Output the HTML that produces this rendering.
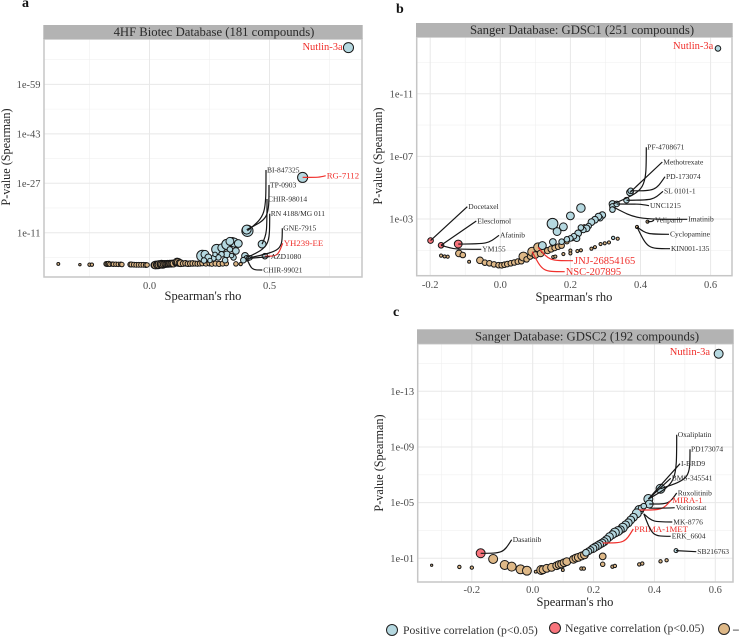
<!DOCTYPE html>
<html lang="en">
<head>
<meta charset="utf-8">
<title>Spearman correlation panels</title>
<style>
html,body{margin:0;padding:0;background:#fff;width:739px;height:637px;overflow:hidden}
svg{display:block;font-family:"Liberation Serif","Times New Roman",serif;filter:blur(.3px)}
</style>
</head>
<body>
<svg id="figure" width="739" height="637" viewBox="0 0 739 637" xmlns="http://www.w3.org/2000/svg">
  <rect width="739" height="637" fill="#fff"/>
  <text x="22" y="7" font-size="14" font-weight="bold" fill="#111">a</text>
  <text x="396" y="13" font-size="14" font-weight="bold" fill="#111">b</text>
  <text x="393" y="316" font-size="14" font-weight="bold" fill="#111">c</text>
  <g>
    <g>
      <circle cx="392" cy="630" r="5.5" fill="#b5d8e0" stroke="#222" stroke-width="1"/>
      <text x="403" y="634" font-size="11.7" fill="#333">Positive correlation (p&lt;0.05)</text>
    </g>
    <g>
      <circle cx="555" cy="628" r="5.5" fill="#f8747c" stroke="#222" stroke-width="1"/>
      <text x="565" y="632" font-size="11.7" fill="#333">Negative correlation (p&lt;0.05)</text>
    </g>
    <g>
      <circle cx="724" cy="629" r="5.5" fill="#deb887" stroke="#222" stroke-width="1"/>
      <text x="733" y="633" font-size="11.6" font-weight="bold" fill="#333">–</text>
    </g>
  </g>
</svg>
<script>
/* ---------- Panel a: 4HF Biotec ---------- */
const aXTicks = [0, 0.5];
const aXTickLabels = ['0.0', '0.5'];
const aXMinor = [-0.25, 0.25, 0.75];
const aYTicks = [59, 43, 27, 11];
const aYTickLabels = ['1e-59', '1e-43', '1e-27', '1e-11'];
const aYMinor = [67, 51, 35, 19, 3];
const aPosRho = [.829,.638,.408,.405,.469,.481,.398,.405,.391,.412,.419,.22,.231,.28,.301,.322,.345,.353,.335,.37,.36,.335,.322,.3,.287,.266,.245,.227,.35,.315,.342,.273,.252];
const aPosExp = [70.9,28.9,11.6,12,7.3,3.4,3.5,2.7,2.1,2.7,2.9,3.5,4,5.6,6.1,7.2,8,7.8,8.2,7.5,5.1,5.6,4,4,3,2.7,3,2,3,2.1,3.6,4,2];
const aPosN = [4.5,4.5,5,4,3.5,2.5,3,2.5,2.5,2,2,5,3.5,4.5,3.5,4.5,4,4,3.5,3.5,3,2.5,3,2.5,2.5,2.5,3,2.5,2.5,2.5,2,2,2];
const aNeuRho = [-.38,-.29,-.25,-.24,-.18,-.175,-.17,-.165,-.155,-.15,
  -.14,-.13,-.12,-.115,-.08,-.075,-.065,-.055,-.045,-.035,
  -.025,-.015,-.01,.02,.025,.03,.035,.04,.045,.05,
  .055,.06,.065,.07,.075,.08,.085,.09,.095,.1,
  .11,.115,.12,.125,.13,.14,.15,.16,.17,.18,
  .19,.2,.21,.22,.235,.25,.26,.275,.29,.305,
  .32,.36,.38];
const aNeuExp = [.9,.65,.65,.65,.9,.85,.95,.8,.85,.8,
  .8,.75,.8,.7,.7,.7,.65,.6,.6,.6,
  .6,.55,.55,.5,.55,.65,.6,.7,.75,.8,
  .75,.8,.9,.85,.95,.9,1,.95,1.05,1,
  1.3,1.5,1.4,1.2,1.1,1,1.1,.95,1,1.05,
  1,.95,1,1.1,1,1.05,.95,1,.9,1,
  1,.9,.85];
const aNeuN = [1.3,1.1,1.5,1.5,2.2,2.2,2.2,2,2,2,
  2,2,2,2,2.2,2.2,2.2,2.2,2.2,2.2,
  2.2,2.2,2,3,3.5,3,3.5,3.5,3,3.5,
  3.5,3.2,3,3,3,3,3,3,3,3,
  3,3.5,3.5,3,3,2.5,2.5,2.5,2.5,2.5,
  2.3,2.3,2.3,2.3,2.3,2.3,2.3,2.3,2.3,2.3,
  2,2,1.5];
const aNegRho = [];
const aNegExp = [];
const aNegN = [];
const aLabelNames = ['BI-847325','TP-0903','CHIR-98014','RN 4188/MG 011','GNE-7915','YH239-EE','AZD1080','CHIR-99021','RG-7112'];
const aLabelRho = [.408,.405,.469,.408,.419,.481,.412,.405,.638];
const aLabelExp = [11.6,12,7.3,3,2.9,3.4,2.7,2.7,28.9];
const aLabelLayout = [[267,170,'v'],[270,185,'v'],[268,199,'v'],[270.7,213.7,'v'],[283.3,228.3,'v'],[283.7,243.3,'h'],[270.7,256.7,'s'],[263.3,270,'d'],[326.7,175.7,'h']];

/* ---------- Panel b: GDSC1 ---------- */
const bXTicks = [-0.2, 0, 0.2, 0.4, 0.6];
const bXTickLabels = ['-0.2', '0.0', '0.2', '0.4', '0.6'];
const bXMinor = [-0.1, 0.1, 0.3, 0.5];
const bYTicks = [11, 7, 3];
const bYTickLabels = ['1e-11', '1e-07', '1e-03'];
const bYMinor = [13, 9, 5, 1];
const bPosRho = [.621,.37,.372,.36,.32,.32,.32,.332,.23,.2,.149,.162,.18,.15,.12,.291,.285,.28,.27,.26,.252,.246,.237,.23,.222,.218,.21,.2,.19,.175,.322];
const bPosExp = [13.9,4.7,4.8,4.2,3.96,3.8,3.6,3.96,3.7,3.2,2.7,2.2,2.5,1.53,1.3,3.25,3.05,3.15,2.95,2.8,2.55,2.4,2.3,2.45,2.08,1.76,1.9,1.76,1.7,1.55,1.79];
const bPosN = [2.5,3,2.5,2.5,3,2.5,2.5,2.5,3.8,3.5,4.8,3.5,3.5,3,3.5,3,2.5,3,3,3,2.5,3,2.5,2.5,3,2.8,2.5,2.5,2.5,2.5,1.5];
const bNeuRho = [-.169,-.159,-.15,-.118,-.107,-.089,-.058,-.044,-.031,-.018,
  -.005,.004,.012,.02,.03,.04,.05,.06,.066,.075,
  .085,.091,.1,.108,.115,.125,.135,.145,.155,.165,
  .175,.151,.157,.18,.2,.2,.22,.23,.26,.27,
  .286,.298,.31,.335,.42,.39,.19,.205,.215,.225,.235,.24];
const bNeuExp = [.66,.61,.59,.8,.7,.27,.36,.21,.17,.1,
  .05,.04,.08,.12,.17,.22,.28,.3,.6,.42,
  .6,.91,.7,1.19,.8,1.02,.98,1.08,1.15,1.23,
  1.3,.57,.6,.76,.98,.8,.95,1,1.1,1.2,
  1.4,1.45,1.5,1.74,2.83,2.49,1.55,1.75,1.95,2.1,2.3,2.5];
const bNeuN = [1.4,1.4,1.4,3,2.5,1.3,3,2.5,2.5,2.5,
  2.5,2.5,2.5,2.5,2.5,2.5,2.5,2.5,4,2.5,
  2.5,4,3,4,3,3,2.8,2.8,2.5,2.5,
  2.5,1.4,1.4,1.4,1.4,1.4,1.4,1.4,1.4,1.4,
  1.4,1.4,1.4,1.4,1.4,1.4,2,2,2,2,2,2];
const bNegRho = [-.199,-.169,-.12];
const bNegExp = [1.62,1.32,1.4];
const bNegN = [2.5,2.5,3.5];
const bLabelNames = ['Docetaxel','Elesclomol','Afatinib','YM155','JNJ-26854165','NSC-207895','PF-4708671','Methotrexate','PD-173074','SL 0101-1','UNC1215','Veliparib','Imatinib','Cyclopamine','KIN001-135'];
const bLabelRho = [-.199,-.169,-.12,-.169,.108,.091,.322,.37,.372,.36,.332,.42,.32,.39,.39];
const bLabelExp = [1.62,1.32,1.4,1.32,1.19,.91,3.96,4.7,4.8,4.2,3.96,2.83,3.8,2.49,2.49];
const bLabelLayout = [[468.3,206.7,'s'],[477.3,221,'s'],[500,235.3,'h'],[482.3,249.3,'d'],[574,260.7,'d'],[565.7,271.7,'d'],[647.3,147.3,'v'],[663.3,162,'s'],[666,176.7,'h'],[664,191.3,'h'],[650,205.7,'h'],[655,220,'h'],[688.3,219.3,'d'],[670,234.3,'d'],[671,248.7,'d']];

/* ---------- Panel c: GDSC2 ---------- */
const cXTicks = [-0.2, 0, 0.2, 0.4, 0.6];
const cXTickLabels = ['-0.2', '0.0', '0.2', '0.4', '0.6'];
const cXMinor = [-0.3, -0.1, 0.1, 0.3, 0.5];
const cYTicks = [13, 9, 5, 1];
const cYTickLabels = ['1e-13', '1e-09', '1e-05', '1e-01'];
const cYMinor = [15, 11, 7, 3];
const cPosRho = [.611,.42,.38,.383,.35,.358,.342,.331,.322,.314,.305,.296,.288,.28,.27,.262,.252,.243,.235,.228,.22,.213,.205,.198,.19,.183,.175,.365,.471];
const cPosExp = [15.7,6,5.26,4.9,4.47,4.6,4.23,3.95,3.75,3.55,3.4,3.2,3.05,2.95,2.85,2.7,2.55,2.35,2.2,2.1,2,1.9,1.8,1.7,1.6,1.5,1.4,4.75,1.55];
const cPosN = [4,4,4,3.5,4,3,4,3.5,3.5,3.5,3.5,4,3.5,4,4,3.5,3.5,3.5,3.5,3.5,3.5,3.5,3.5,3.5,3,3,3,2.5,1.8];
const cNeuRho = [-.332,-.241,-.2,-.13,-.092,-.069,-.04,-.019,.01,.028,
  .034,.046,.062,.079,.087,.095,.103,.112,.099,.134,
  .142,.15,.161,.17,.16,.168,.23,.23,.262,.27,
  .35,.36,.42,.44];
const cNeuExp = [.5,.38,.33,.95,.52,.4,.21,.11,.04,.16,
  .18,.28,.35,.47,.55,.59,.68,.76,.16,.93,
  1.02,1.07,1.17,1.25,.26,.26,1.14,.57,.4,.45,
  .56,.62,.78,.86];
const cNeuN = [1,1.5,1.5,4,4,4,4,4,1.3,4,
  3.5,3.5,3.5,3.5,3.5,3.5,3.5,3.5,1.3,3.5,
  3.5,3.5,3.5,3.5,1.5,1.5,3,2,1.5,1.5,
  1.5,1.5,1.5,1.5];
const cNegRho = [-.171];
const cNegExp = [1.36];
const cNegN = [4];
const cLabelNames = ['Oxaliplatin','PD173074','I-BRD9','BMS-345541','Ruxolitinib','MIRA-1','Vorinostat','MK-8776','PRIMA-1MET','ERK_6604','SB216763','Dasatinib'];
const cLabelRho = [.38,.42,.38,.38,.383,.35,.383,.365,.23,.365,.471,-.171];
const cLabelExp = [5.26,6,5.26,5.26,4.9,4.47,4.6,4.2,2.1,4.2,1.55,1.36];
const cLabelLayout = [[677.7,434.7,'v'],[691,449.3,'v'],[681,463.7,'s'],[671.7,478.3,'s'],[677.7,493,'h'],[672.3,500,'h'],[675.7,507.7,'h'],[673.3,522,'d'],[634.3,529,'h'],[671.7,536.3,'d'],[697.3,551.7,'s'],[512.7,539.7,'h']];

const redLabels = ['RG-7112','YH239-EE','JNJ-26854165','NSC-207895','MIRA-1','PRIMA-1MET'];
const largeRedLabels = ['JNJ-26854165','NSC-207895'];
const SVGNS = 'http://www.w3.org/2000/svg';
const figure = document.getElementById('figure');

function make(parent, tag, attrs, text) {
  const el = document.createElementNS(SVGNS, tag);
  for (const k in attrs) el.setAttribute(k, attrs[k]);
  if (text !== undefined) el.textContent = text;
  parent.appendChild(el);
  return el;
}
function linear(d0, d1, r0, r1) {
  return v => r0 + (v - d0) / (d1 - d0) * (r1 - r0);
}
function sizeScale(n) { return n * 1.12; }
function slug(s) { return s.toLowerCase().replace(/[^a-z0-9]+/g, '-'); }

function drawPanel(p) {
  const x = linear(p.xDom[0], p.xDom[1], p.xPx[0], p.xPx[1]);
  const y = linear(p.yDom[0], p.yDom[1], p.yPx[0], p.yPx[1]);
  const g = make(figure, 'g', {});
  
  

  const inX = v => x(v) > p.left && x(v) < p.right;
  const inY = v => y(v) > p.stripBottom && y(v) < p.bottom;

  p.xMinor.filter(inX).forEach(v => {
    const l = make(g, 'line', {x1: x(v), x2: x(v), y1: p.stripBottom, y2: p.bottom, stroke: '#f0f0f0', 'stroke-width': .6});
    
    
  });
  p.yMinor.filter(inY).forEach(v => {
    const l = make(g, 'line', {x1: p.left, x2: p.right, y1: y(v), y2: y(v), stroke: '#f0f0f0', 'stroke-width': .6});
    
    
  });
  p.xTicks.forEach((v, i) => {
    const l = make(g, 'line', {x1: x(v), x2: x(v), y1: p.stripBottom, y2: p.bottom, stroke: '#e8e8e8', 'stroke-width': 1});
    
    
    const t = make(g, 'text', {x: x(v), y: p.xTickY, 'text-anchor': 'middle', 'font-size': 10.5, fill: '#4d4d4d'}, p.xLabels[i]);
    
    
  });
  p.yTicks.forEach((v, i) => {
    const l = make(g, 'line', {x1: p.left, x2: p.right, y1: y(v), y2: y(v), stroke: '#e8e8e8', 'stroke-width': 1});
    
    
    const t = make(g, 'text', {x: p.left - 3.5, y: y(v) + 3.6, 'text-anchor': 'end', 'font-size': 10.5, fill: '#4d4d4d'}, p.yLabels[i]);
    
    
  });

  const border = make(g, 'rect', {x: p.left, y: p.stripBottom, width: p.right - p.left, height: p.bottom - p.stripBottom, fill: 'none', stroke: '#c6c6c6', 'stroke-width': 1.5});
  
  
  const strip = make(g, 'rect', {x: p.left - .7, y: p.stripTop, width: p.right - p.left + 1.4, height: p.stripBottom - p.stripTop, fill: '#b3b3b3'});
  
  
  const title = make(g, 'text', {x: p.titleX, y: p.stripBottom - 3, 'text-anchor': 'middle', 'font-size': 12.7, fill: '#2b2b2b'}, p.title);
  
  

  const xt = make(g, 'text', {x: p.xTitle[0], y: p.xTitle[1], 'text-anchor': 'middle', 'font-size': 12.5, fill: '#222'}, "Spearman's rho");
  
  
  const yt = make(g, 'text', {transform: 'translate(' + p.yTitle[0] + ',' + p.yTitle[1] + ') rotate(-90)', 'text-anchor': 'middle', 'font-size': 12.2, fill: '#222'}, 'P-value (Spearman)');
  
  

  p.series.forEach(s => {
    const sg = make(g, 'g', {});
    
    
    s.rho.forEach((r, i) => {
      const c = make(sg, 'circle', {cx: x(r), cy: y(s.exp[i]), r: sizeScale(s.n[i]), fill: s.fill, stroke: '#161616', 'stroke-width': 1});
      
      
    });
  });

  p.labelNames.forEach((name, i) => {
    const ax = x(p.labelRho[i]), ay = y(p.labelExp[i]);
    const [lx, ly, shape] = p.labelLayout[i];
    const isRed = redLabels.includes(name);
    const ex = lx - 1, dx = ex - ax, dy = ly - ay;
    let d;
    if (shape === 'v') {
      const cy = ly - dy * .75;
      d = 'M' + ax + ',' + ay + 'C' + ex + ',' + cy + ' ' + ex + ',' + cy + ' ' + ex + ',' + ly;
    } else if (shape === 'h') {
      const cx = ax + dx * .72;
      d = 'M' + ax + ',' + ay + 'C' + cx + ',' + ay + ' ' + cx + ',' + ay + ' ' + ex + ',' + ly;
    } else if (shape === 'd') {
      const cx = ax + dx * .32;
      d = 'M' + ax + ',' + ay + 'C' + cx + ',' + ly + ' ' + cx + ',' + ly + ' ' + ex + ',' + ly;
    } else {
      d = 'M' + ax + ',' + ay + 'L' + ex + ',' + ly;
    }
    const path = make(g, 'path', {d: d, fill: 'none', stroke: isRed ? '#f0302c' : '#161616', 'stroke-width': 1.2});
    
    
    const size = largeRedLabels.includes(name) ? 10.5 : (isRed ? 8.8 : 7.5);
    const t = make(g, 'text', {x: lx, y: ly + size * .32, 'font-size': size, fill: isRed ? '#f0302c' : '#2b2b2b'}, name);
    
    
  });

  const nutlin = make(g, 'text', {x: p.nutlin[0], y: p.nutlin[1] + 3.4, 'text-anchor': 'end', 'font-size': 10.5, fill: '#f0302c'}, 'Nutlin-3a');
  
  
}

const blue = '#b5d8e0', tan = '#deb887', red = '#f8747c';

drawPanel({
  id: 'a', title: '4HF Biotec Database (181 compounds)', titleX: 214,
  left: 44, right: 362, stripTop: 25, stripBottom: 39, bottom: 277,
  xDom: [0, .5], xPx: [149.5, 269.5], yDom: [11, 59], yPx: [232.7, 84.4],
  xTicks: aXTicks, xLabels: aXTickLabels, xMinor: aXMinor,
  yTicks: aYTicks, yLabels: aYTickLabels, yMinor: aYMinor,
  xTickY: 289, xTitle: [203, 300], yTitle: [10, 157], nutlin: [342.7, 46.7],
  series: [
    {name: 'neutral', rho: aNeuRho, exp: aNeuExp, n: aNeuN, fill: tan},
    {name: 'positive', rho: aPosRho, exp: aPosExp, n: aPosN, fill: blue},
    {name: 'negative', rho: aNegRho, exp: aNegExp, n: aNegN, fill: red}
  ],
  labelNames: aLabelNames, labelRho: aLabelRho, labelExp: aLabelExp, labelLayout: aLabelLayout
});

drawPanel({
  id: 'b', title: 'Sanger Database: GDSC1 (251 compounds)', titleX: 582,
  left: 416.7, right: 732, stripTop: 23, stripBottom: 37, bottom: 275.7,
  xDom: [0, .6], xPx: [500.3, 710.6], yDom: [3, 11], yPx: [219, 93.8],
  xTicks: bXTicks, xLabels: bXTickLabels, xMinor: bXMinor,
  yTicks: bYTicks, yLabels: bYTickLabels, yMinor: bYMinor,
  xTickY: 288, xTitle: [574, 301], yTitle: [382, 156], nutlin: [713.3, 45.7],
  series: [
    {name: 'neutral', rho: bNeuRho, exp: bNeuExp, n: bNeuN, fill: tan},
    {name: 'positive', rho: bPosRho, exp: bPosExp, n: bPosN, fill: blue},
    {name: 'negative', rho: bNegRho, exp: bNegExp, n: bNegN, fill: red}
  ],
  labelNames: bLabelNames, labelRho: bLabelRho, labelExp: bLabelExp, labelLayout: bLabelLayout
});

drawPanel({
  id: 'c', title: 'Sanger Database: GDSC2 (192 compounds)', titleX: 587,
  left: 417.7, right: 733, stripTop: 329.3, stripBottom: 343.7, bottom: 582,
  xDom: [0, .6], xPx: [532.7, 715.3], yDom: [1, 13], yPx: [558.3, 391.3],
  xTicks: cXTicks, xLabels: cXTickLabels, xMinor: cXMinor,
  yTicks: cYTicks, yLabels: cYTickLabels, yMinor: cYMinor,
  xTickY: 593, xTitle: [575, 606], yTitle: [383, 463], nutlin: [710, 351.7],
  series: [
    {name: 'neutral', rho: cNeuRho, exp: cNeuExp, n: cNeuN, fill: tan},
    {name: 'positive', rho: cPosRho, exp: cPosExp, n: cPosN, fill: blue},
    {name: 'negative', rho: cNegRho, exp: cNegExp, n: cNegN, fill: red}
  ],
  labelNames: cLabelNames, labelRho: cLabelRho, labelExp: cLabelExp, labelLayout: cLabelLayout
});
</script>
</body>
</html>
